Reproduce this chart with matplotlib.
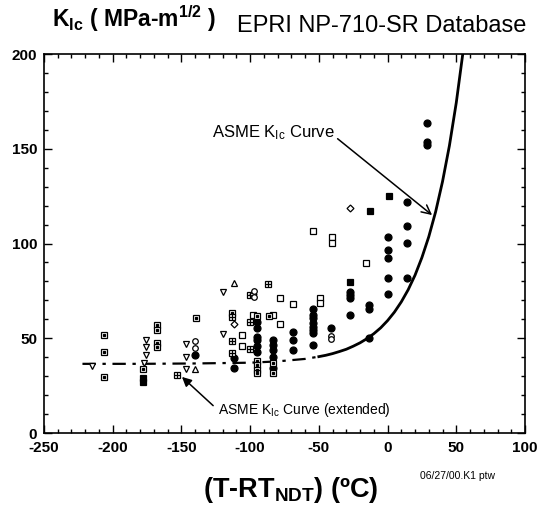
import numpy as np
import matplotlib
matplotlib.use("Agg")
import matplotlib.pyplot as plt
from matplotlib.ticker import MultipleLocator

plt.rcParams["font.family"] = ["Liberation Sans", "DejaVu Sans"]
plt.rcParams["mathtext.fontset"] = "custom"
plt.rcParams["mathtext.rm"] = "Liberation Sans"
plt.rcParams["mathtext.bf"] = "Liberation Sans:bold"
plt.rcParams["mathtext.it"] = "Liberation Sans:italic"
plt.rcParams["mathtext.default"] = "regular"
plt.rcParams["axes.unicode_minus"] = False

# ── ASME KIc curve ──────────────────────────────────────
curve_T = [-50, -45, -40, -35, -30, -25, -20, -15, -10, -5, 0, 5, 10, 15,
           20, 25, 30, 35, 40, 45, 50, 55]
curve_K = [40.3, 41.0, 41.9, 43.0, 44.2, 45.8, 47.6, 49.8, 52.4, 55.5, 59.3,
           63.8, 69.2, 75.6, 83.3, 92.6, 103.6, 116.8, 132.7, 151.6, 174.3, 201.5]
ext_T = [-222, -180, -140, -100, -80, -60, -50]
ext_K = [36.5, 36.5, 36.7, 37.1, 37.8, 39.1, 40.3]

# ── EPRI NP-710-SR data by symbol ───────────────────────
circ_fill_T = [-140, -111.5, -111.5,
               -95, -95, -95, -95, -95, -95,
               -83, -83, -83, -83, -83,
               -69, -69, -69,
               -54.4, -54.4, -54.4, -54.4, -54.4, -54.4, -54.4, -54.4,
               -41.4, -27.3, -27.3, -27.3, -27.3,
               -13.5, -13.5, -13.2,
               0.6, 0.6, 0.6, 0.6, 0.6,
               14.4, 14.4, 14.4, 14.4,
               29, 29, 29]
circ_fill_K = [41.2, 39.6, 34.3,
               58.7, 55.2, 50.8, 49.0, 46.0, 43.0,
               49.0, 46.4, 43.8, 40.3, 34.1,
               53.5, 49.0, 43.8,
               65.3, 62.3, 60.5, 57.9, 56.1, 54.4, 52.9, 46.4,
               55.2, 74.6, 72.8, 71.1, 62.3,
               67.5, 65.3, 50.3,
               103.6, 96.4, 92.2, 82.0, 73.4,
               122.0, 109.2, 100.1, 82.0,
               163.7, 153.7, 152.0]
sq_fill_T = [-27.3, -12.7, 1.0, -178, -178]
sq_fill_K = [79.8, 117.0, 125.0, 29.0, 27.0]
open_sq_T = [-54.5, -40.6, -40.6, -15.8, -49.3, -49.3, -69, -78.5, -78.2,
             -83.6, -106, -106, -98]
open_sq_K = [106.4, 103.3, 100.1, 89.5, 71.4, 68.6, 67.9, 71.2, 57.5,
             62.3, 51.7, 46.0, 62.3]
dot_sq_T = [-206.3, -206.3, -206.3, -167.8, -167.8, -167.8, -167.8, -139.4,
            -178, -113, -86, -95, -95, -95, -95, -95, -83, -83]
dot_sq_K = [51.7, 42.7, 29.6, 57.0, 54.4, 47.5, 45.4, 60.5,
            34.0, 63.5, 61.7, 62.0, 38.0, 36.0, 33.5, 31.6, 36.8, 31.5]
grid_sq_T = [-153.4, -86.7, -100, -113.4, -100.1, -113.4, -113.4, -100.1]
grid_sq_K = [30.6, 78.5, 72.8, 61.4, 58.7, 48.7, 42.0, 44.2]
tri_down_T = [-215, -176, -176, -176, -177, -147, -147, -147, -120, -120]
tri_down_K = [35.5, 49.0, 45.5, 41.0, 37.0, 47.0, 40.0, 34.0, 74.4, 52.3]
tri_up_T = [-111.5, -140]
tri_up_K = [79.0, 33.6]
diamond_T = [-27.3, -112, -98]
diamond_K = [118.6, 57.5, 73.5]
circ_open_T = [-140, -140, -97, -97, -41.4, -41.4]
circ_open_K = [48.5, 45.0, 75.0, 72.0, 51.3, 49.4]

fig = plt.figure(figsize=(5.39, 5.09), dpi=100)
ax = fig.add_axes([0.0816, 0.1493, 0.8924, 0.7446])

ax.plot(ext_T, ext_K, color="black", lw=1.6, linestyle=(0, (6, 3, 1.5, 3)))
ax.plot(curve_T, curve_K, color="black", lw=2.0)

mk = dict(linestyle="none", color="black", mec="black", mew=0.9)
ax.plot(circ_fill_T, circ_fill_K, marker="o", ms=5, **mk)
ax.plot(sq_fill_T, sq_fill_K, marker="s", ms=5, **mk)
ax.plot(open_sq_T, open_sq_K, marker="s", ms=4.5, mfc="white", **mk)
ax.plot(dot_sq_T, dot_sq_K, marker="s", ms=4.5, mfc="white", **mk)
ax.plot(dot_sq_T, dot_sq_K, marker="s", ms=1.5, **mk)
ax.plot(grid_sq_T, grid_sq_K, marker="s", ms=4.5, mfc="white", **mk)
ax.plot(grid_sq_T, grid_sq_K, marker="+", ms=4.5, **mk)
ax.plot(tri_down_T, tri_down_K, marker="v", ms=5, mfc="white", **mk)
ax.plot(tri_up_T, tri_up_K, marker="^", ms=5, mfc="white", **mk)
ax.plot(diamond_T, diamond_K, marker="D", ms=3.5, mfc="white", **mk)
ax.plot(circ_open_T, circ_open_K, marker="o", ms=4, mfc="white", **mk)

ax.set_xlim(-250, 100)
ax.set_ylim(0, 200)
ax.xaxis.set_major_locator(MultipleLocator(50))
ax.xaxis.set_minor_locator(MultipleLocator(10))
ax.yaxis.set_major_locator(MultipleLocator(50))
ax.yaxis.set_minor_locator(MultipleLocator(10))
ax.tick_params(which="both", direction="in", top=True, right=True, width=1)
ax.tick_params(which="major", length=6)
ax.tick_params(which="minor", length=3)
ax.tick_params(axis="x", pad=6)
ax.tick_params(axis="y", pad=5)
for lab in ax.get_xticklabels() + ax.get_yticklabels():
    lab.set_fontweight("bold")
    lab.set_fontsize(11)
for s in ax.spines.values():
    s.set_linewidth(1.2)

ax.annotate("ASME K$_{Ic}$ Curve", xy=(32.4, 115), xytext=(-127.7, 156),
            fontsize=12, va="baseline",
            arrowprops=dict(arrowstyle="->", color="black", lw=1.1,
                            mutation_scale=16, shrinkA=0, shrinkB=0,
                            relpos=(1.0, 0.3)))
ax.annotate("ASME K$_{Ic}$ Curve (extended)", xy=(-149.6, 29.6), xytext=(-123.4, 12.1),
            fontsize=10, va="center",
            arrowprops=dict(arrowstyle="-|>", color="black", lw=1.1,
                            mutation_scale=14, shrinkA=2, shrinkB=0,
                            relpos=(0.0, 0.5)))

fig.text(52 / 539, 1 - 27 / 509, r"K$_{\mathbf{Ic}}$ ( MPa-m$^{\mathbf{1/2}}$ )",
         fontsize=16.5, fontweight="bold", va="baseline")
fig.text(237 / 539, 1 - 32 / 509, "EPRI NP-710-SR Database", fontsize=17, va="baseline")
fig.text(291 / 539, 1 - 497 / 509, r"(T-RT$_{\mathbf{NDT}}$) (ºC)",
         fontsize=19.5, fontweight="bold", ha="center", va="baseline")
fig.text(420 / 539, 1 - 479 / 509, "06/27/00.K1 ptw", fontsize=7.5)

fig.savefig("out.png", dpi=100)
